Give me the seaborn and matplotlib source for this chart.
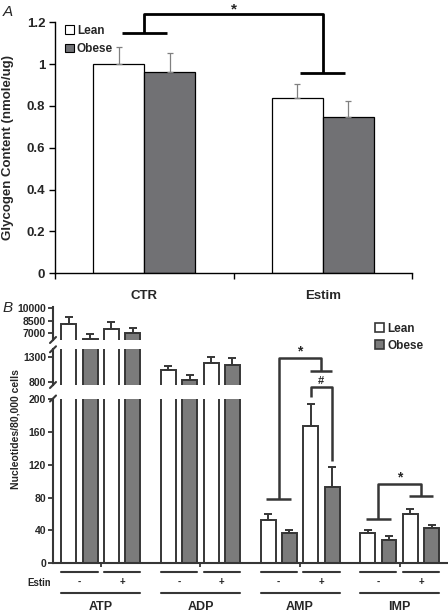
import numpy as np
import pandas as pd
import matplotlib
matplotlib.use("Agg")
import matplotlib.pyplot as plt
import matplotlib.transforms as mtransforms
from matplotlib.patches import Patch
from matplotlib.container import BarContainer
import seaborn as sns

# ---------------- Panel A data ----------------
a_conditions = ["CTR", "Estim"]
a_groups = ["Lean", "Obese"]
a_lean = [1.00, 0.84]
a_obese = [0.963, 0.747]
a_lean_err = [0.08, 0.067]
a_obese_err = [0.09, 0.076]
a_yticks = [0, 0.2, 0.4, 0.6, 0.8, 1.0, 1.2]
a_yticklabels = ["0", "0.2", "0.4", "0.6", "0.8", "1", "1.2"]

# ---------------- Panel B data ----------------
b_nucleotides = ["ATP", "ADP", "AMP", "IMP"]
b_series = ["Lean -", "Obese -", "Lean +", "Obese +"]
b_lean_minus = [8030, 1046, 52.2, 36.4]
b_lean_minus_err = [935, 86, 8.1, 4.1]
b_obese_minus = [6200, 846, 37.2, 28.7]
b_obese_minus_err = [640, 100, 3.6, 4.5]
b_lean_plus = [7490, 1192, 167.0, 59.5]
b_lean_plus_err = [790, 108, 27.0, 6.9]
b_obese_plus = [6960, 1146, 92.3, 42.9]
b_obese_plus_err = [580, 134, 24.3, 4.0]
b_ticks_top = [7000, 8500, 10000]
b_ticks_mid = [800, 1300]
b_ticks_bot = [0, 40, 80, 120, 160, 200]
b_signs = ["-", "+"]

FONT = ["Liberation Sans", "DejaVu Sans"]
sns.set_style("white")
plt.rcParams["font.family"] = FONT
plt.rcParams["font.weight"] = "bold"

W, H = 448, 615
fig = plt.figure(figsize=(W / 100, H / 100), dpi=100)

def fx(px):
    return px / W

def fy(py):
    return 1 - py / H

# overlay axes in pixel coordinates (for annotations only)
ov = fig.add_axes([0, 0, 1, 1], zorder=10)
ov.set_xlim(0, W)
ov.set_ylim(H, 0)
ov.axis("off")
ov.patch.set_alpha(0)

def bar_containers(ax):
    return [c for c in ax.containers if isinstance(c, BarContainer)]

# ================= Panel A =================
dfa = pd.DataFrame({
    "cond": a_conditions * 2,
    "group": [a_groups[0]] * 2 + [a_groups[1]] * 2,
    "val": a_lean + a_obese,
})
axa = fig.add_axes([fx(55), fy(273.3), fx(412 - 55), (273.3 - 22.3) / H])
sns.barplot(data=dfa, x="cond", y="val", hue="group", hue_order=a_groups,
            order=a_conditions,
            palette={"Lean": "white", "Obese": "#707175"}, width=0.57,
            edgecolor="black", linewidth=0.9, errorbar=None, legend=False, ax=axa)
for cont, errs_ in zip(bar_containers(axa), [a_lean_err, a_obese_err]):
    xs = [b.get_x() + b.get_width() / 2 for b in cont]
    ys = [b.get_height() for b in cont]
    axa.errorbar(xs, ys, yerr=[np.zeros(len(errs_)), errs_], fmt="none",
                 ecolor="#808080", elinewidth=0.9, capsize=2.3, capthick=0.9, zorder=1)
axa.set_xlim(-0.5, 1.5)
axa.set_ylim(0, 1.2)
axa.set_yticks(a_yticks)
axa.set_yticklabels(a_yticklabels, fontsize=9.5, fontweight="bold")
axa.set_xticks([0, 1])
axa.set_xticklabels(a_conditions, fontsize=9.5, fontweight="bold")
axa.set_xticks([-0.5, 0.5, 1.5], minor=True)
axa.tick_params(axis="x", which="major", length=0, pad=12)
axa.tick_params(axis="x", which="minor", length=4, width=1, direction="out", color="black", bottom=True)
axa.tick_params(axis="y", length=4, width=1, direction="out", color="black", pad=3, left=True)
for s in ["top", "right"]:
    axa.spines[s].set_visible(False)
for s in ["left", "bottom"]:
    axa.spines[s].set_color("black")
    axa.spines[s].set_linewidth(1.0)
axa.set_xlabel("")
axa.set_ylabel("Glycogen Content (nmole/ug)", fontsize=9.5, fontweight="bold")
axa.yaxis.set_label_coords(-0.115, 0.5)
axa.legend(handles=[Patch(facecolor="white", edgecolor="black", linewidth=0.8, label="Lean"),
                    Patch(facecolor="#707175", edgecolor="black", linewidth=0.8, label="Obese")],
           loc="upper left", bbox_to_anchor=(0.015, 1.01), frameon=False,
           handlelength=0.75, handleheight=0.75, handletextpad=0.25, labelspacing=0.55,
           prop={"size": 8.5, "weight": "bold"}, borderaxespad=0)
# significance bracket A
kw = dict(color="black", lw=2.0, clip_on=False, solid_capstyle="butt")
axa.plot([0, 0, 1, 1], [1.147, 1.238, 1.238, 0.956], **kw)
axa.plot([-0.126, 0.126], [1.147, 1.147], **kw)
axa.plot([1 - 0.126, 1 + 0.126], [0.956, 0.956], **kw)
axa.text(0.5, 1.262, "*", ha="center", va="center", fontsize=11, fontweight="bold", clip_on=False)
fig.text(fx(3), fy(12), "A", fontsize=11, style="italic", fontweight="normal", va="center", ha="left")

# ================= Panel B =================
vals = [b_lean_minus, b_obese_minus, b_lean_plus, b_obese_plus]
errs = [b_lean_minus_err, b_obese_minus_err, b_lean_plus_err, b_obese_plus_err]
dfb = pd.DataFrame({
    "nuc": b_nucleotides * 4,
    "series": sum([[s] * 4 for s in b_series], []),
    "val": sum(vals, []),
})
GRAY = "#7b7b7b"
EDGE = "#363636"
pal = {"Lean -": "white", "Obese -": GRAY, "Lean +": "white", "Obese +": GRAY}

left, right = 53, 447
axes_spec = [
    (306.7, 340.0, (6100, 10200), b_ticks_top),
    (349.3, 385.0, (746, 1460), b_ticks_mid),
    (398.5, 563.3, (0, 200.5), b_ticks_bot),
]
baxes = []
for top, bot, ylim, ticks in axes_spec:
    ax = fig.add_axes([fx(left), fy(bot), fx(right - left), (bot - top) / H])
    ax.patch.set_alpha(0)
    sns.barplot(data=dfb, x="nuc", y="val", hue="series", order=b_nucleotides,
                hue_order=b_series, palette=pal, width=0.857, gap=0.3,
                edgecolor=EDGE, linewidth=1.4, errorbar=None, legend=False, ax=ax)
    for cont, e in zip(bar_containers(ax), errs):
        xs = [b.get_x() + b.get_width() / 2 for b in cont]
        ys = [b.get_height() for b in cont]
        ax.errorbar(xs, ys, yerr=[np.zeros(len(e)), e], fmt="none", ecolor=EDGE,
                    elinewidth=1.4, capsize=2.6, capthick=1.4, zorder=1)
    ax.set_xlim(-0.48, 3.475)
    ax.set_ylim(*ylim)
    ax.set_yticks(ticks)
    ax.set_yticklabels([str(t) for t in ticks], fontsize=7.5, fontweight="bold")
    ax.tick_params(axis="y", length=3.5, width=1.3, direction="out", color=EDGE, pad=1.5, left=True)
    for s in ["top", "right", "bottom"]:
        ax.spines[s].set_visible(False)
    ax.spines["left"].set_color(EDGE)
    ax.spines["left"].set_linewidth(1.5)
    ax.set_xlabel("")
    ax.set_ylabel("")
    ax.set_xticks([])
    baxes.append(ax)

axb = baxes[2]
axb.spines["bottom"].set_visible(True)
axb.spines["bottom"].set_color(EDGE)
axb.spines["bottom"].set_linewidth(1.5)
axb.set_xticks(range(len(b_nucleotides)))
axb.set_xticklabels([""] * len(b_nucleotides))
axb.tick_params(axis="x", length=3, width=1.3, direction="out", color=EDGE, bottom=True)

# break marks on the left spine (pixel offsets from the spine end)
def slash(ax, y_axes):
    x0, y0 = ax.transAxes.transform((0, y_axes))
    px, py = x0 / fig.dpi * 100, H - y0 / fig.dpi * 100
    ov.plot([px - 3, px + 3], [py + 3, py - 3], color=EDGE, lw=1.5, clip_on=False)

for ax in baxes[:2]:
    slash(ax, 0)
for ax in baxes[1:]:
    slash(ax, 1)

# group / pair lines below the axis
bt = mtransforms.blended_transform_factory(axb.transData, ov.transData)
conts = bar_containers(axb)
for i, nuc in enumerate(b_nucleotides):
    bars = [c[i] for c in conts]
    for j, sign in enumerate(b_signs):
        b1, b2 = bars[2 * j], bars[2 * j + 1]
        x1 = b1.get_x()
        x2 = b2.get_x() + b2.get_width()
        ov.plot([x1, x2], [571.7, 571.7], color=EDGE, lw=1.5, transform=bt, clip_on=False)
        ov.text((x1 + x2) / 2, 582, sign, transform=bt, ha="center", va="center",
                fontsize=7, fontweight="bold")
    xa = bars[0].get_x()
    xb = bars[3].get_x() + bars[3].get_width()
    ov.plot([xa, xb], [592.7, 592.7], color=EDGE, lw=1.5, transform=bt, clip_on=False)
    ov.text((xa + xb) / 2, 607, nuc, transform=bt, ha="center", va="center",
            fontsize=9, fontweight="bold")

est = ov.text(27, 582.5, "Estim", ha="left", va="center", fontsize=7, fontweight="bold")
est.set_clip_on(True)
est.set_clip_box(mtransforms.TransformedBbox(mtransforms.Bbox([[0, 0], [50, H]]), ov.transData))

fig.text(fx(15), fy(429), "Nucleotides/80,000 cells", rotation=90, ha="center", va="center",
         fontsize=7.5, fontweight="bold")
fig.text(fx(3), fy(308), "B", fontsize=11, style="italic", fontweight="normal", va="center", ha="left")

fig.legend(handles=[Patch(facecolor="white", edgecolor=EDGE, linewidth=1.2, label="Lean"),
                    Patch(facecolor=GRAY, edgecolor=EDGE, linewidth=1.2, label="Obese")],
           loc="upper left", bbox_to_anchor=(fx(370), fy(318)), frameon=False,
           handlelength=0.8, handleheight=0.8, handletextpad=0.3, labelspacing=0.45,
           prop={"size": 8.5, "weight": "bold"}, borderaxespad=0)

# significance brackets in B (x from bar centres, y in pixels)
def cen(i, k):
    b = conts[k][i]
    return b.get_x() + b.get_width() / 2

bk = dict(color=EDGE, lw=1.8, transform=bt, clip_on=False, solid_capstyle="butt")
hw = 0.125
# AMP *
i = 2
xl = (cen(i, 0) + cen(i, 1)) / 2
xr = (cen(i, 2) + cen(i, 3)) / 2
ov.plot([xl, xl, xr, xr], [499.3, 358.3, 358.3, 370.7], **bk)
ov.plot([xl - hw, xl + hw], [499.3, 499.3], **bk)
ov.plot([xr - 0.11, xr + 0.11], [370.7, 370.7], **bk)
ov.text((xl + xr) / 2, 351, "*", transform=bt, ha="center", va="center", fontsize=10, fontweight="bold")
# AMP #
xa, xb = cen(i, 2), cen(i, 3)
ov.plot([xa, xa, xb, xb], [396.7, 386.7, 386.7, 460.7], **bk)
ov.text((xa + xb) / 2, 380.5, "#", transform=bt, ha="center", va="center", fontsize=8, fontweight="bold")
# IMP *
i = 3
xl = (cen(i, 0) + cen(i, 1)) / 2
xr = (cen(i, 2) + cen(i, 3)) / 2
ov.plot([xl, xl, xr, xr], [519, 484.3, 484.3, 496], **bk)
ov.plot([xl - hw, xl + hw], [519, 519], **bk)
ov.plot([xr - hw, xr + hw], [496, 496], **bk)
ov.text((xl + xr) / 2, 477, "*", transform=bt, ha="center", va="center", fontsize=10, fontweight="bold")

fig.savefig("out.png", dpi=100)
